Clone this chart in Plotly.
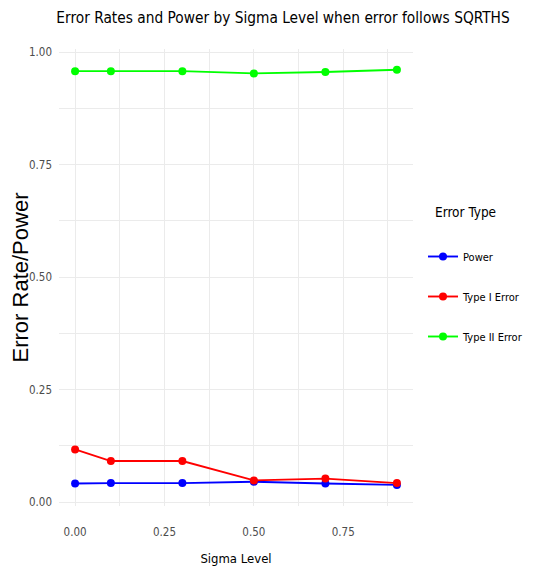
import plotly.graph_objects as go

sigma = [0.0, 0.1, 0.3, 0.5, 0.7, 0.9]
power = [0.041, 0.042, 0.042, 0.045, 0.041, 0.038]
type1 = [0.117, 0.091, 0.091, 0.048, 0.052, 0.042]
type2 = [0.958, 0.958, 0.958, 0.953, 0.956, 0.961]
series = [("Power", power, "#0000FF"), ("Type I Error", type1, "#FF0000"), ("Type II Error", type2, "#00FF00")]

COND = "DejaVu Sans Condensed, Liberation Sans, Arial, sans-serif"
ARIAL = "Liberation Sans, Arial, sans-serif"

fig = go.Figure()
for name, vals, col in series:
    fig.add_trace(go.Scatter(x=sigma, y=vals, name=name, mode="lines+markers",
                             line=dict(color=col, width=1.9),
                             marker=dict(color=col, size=8, symbol="circle"),
                             legendgroup=name))

grid = "#EBEBEB"
# page body has an 8px margin, so the figure is laid out 8px smaller
W, H = 526, 566
L, R, T, B = 51, 121, 41, 68
pw, ph = W - L - R, H - T - B

fig.update_layout(
    width=W, height=H,
    margin=dict(l=L, r=R, t=T, b=B, autoexpand=False),
    paper_bgcolor="white", plot_bgcolor="white",
    title=dict(text="Error Rates and Power by Sigma Level when error follows SQRTHS",
               x=275 / W, xref="container", xanchor="center",
               y=1 - 10 / H, yref="container", yanchor="middle",
               font=dict(family=COND, size=15.3, color="black")),
    xaxis=dict(range=[-0.045, 0.945], tickmode="linear", tick0=0, dtick=0.25,
               tickformat=".2f", showgrid=True, gridcolor=grid, gridwidth=1.2,
               zeroline=False, showline=False, ticks="", ticklabelstandoff=17,
               automargin=False,
               minor=dict(tick0=0, dtick=0.125, showgrid=True, gridcolor=grid, gridwidth=0.8),
               tickfont=dict(family=COND, size=11.5, color="#4D4D4D"),
               title=dict(text="Sigma Level", standoff=16,
                          font=dict(family=COND, size=13, color="black"))),
    yaxis=dict(range=[-0.0089, 1.0073], tickmode="linear", tick0=0, dtick=0.25,
               tickformat=".2f", showgrid=True, gridcolor=grid, gridwidth=1.2,
               zeroline=False, showline=False, ticks="", ticklabelstandoff=6,
               automargin=False,
               minor=dict(tick0=0, dtick=0.125, showgrid=True, gridcolor=grid, gridwidth=0.8),
               tickfont=dict(family=COND, size=11.5, color="#4D4D4D"),
               title=dict(text="Error Rate/Power", standoff=3,
                          font=dict(family=ARIAL, size=22, color="black"))),
    legend=dict(x=(415 - L) / pw, xanchor="left", y=(498 - 234) / ph, yanchor="top",
                font=dict(family=COND, size=11, color="black"),
                tracegroupgap=21, bgcolor="rgba(0,0,0,0)"),
    annotations=[dict(text="Error Type", xref="paper", yref="paper",
                      x=(425 - L) / pw, y=(498 - 204) / ph, xanchor="left", yanchor="middle",
                      showarrow=False, font=dict(family=COND, size=13.5, color="black"))],
)

fig.write_html("out.html")
